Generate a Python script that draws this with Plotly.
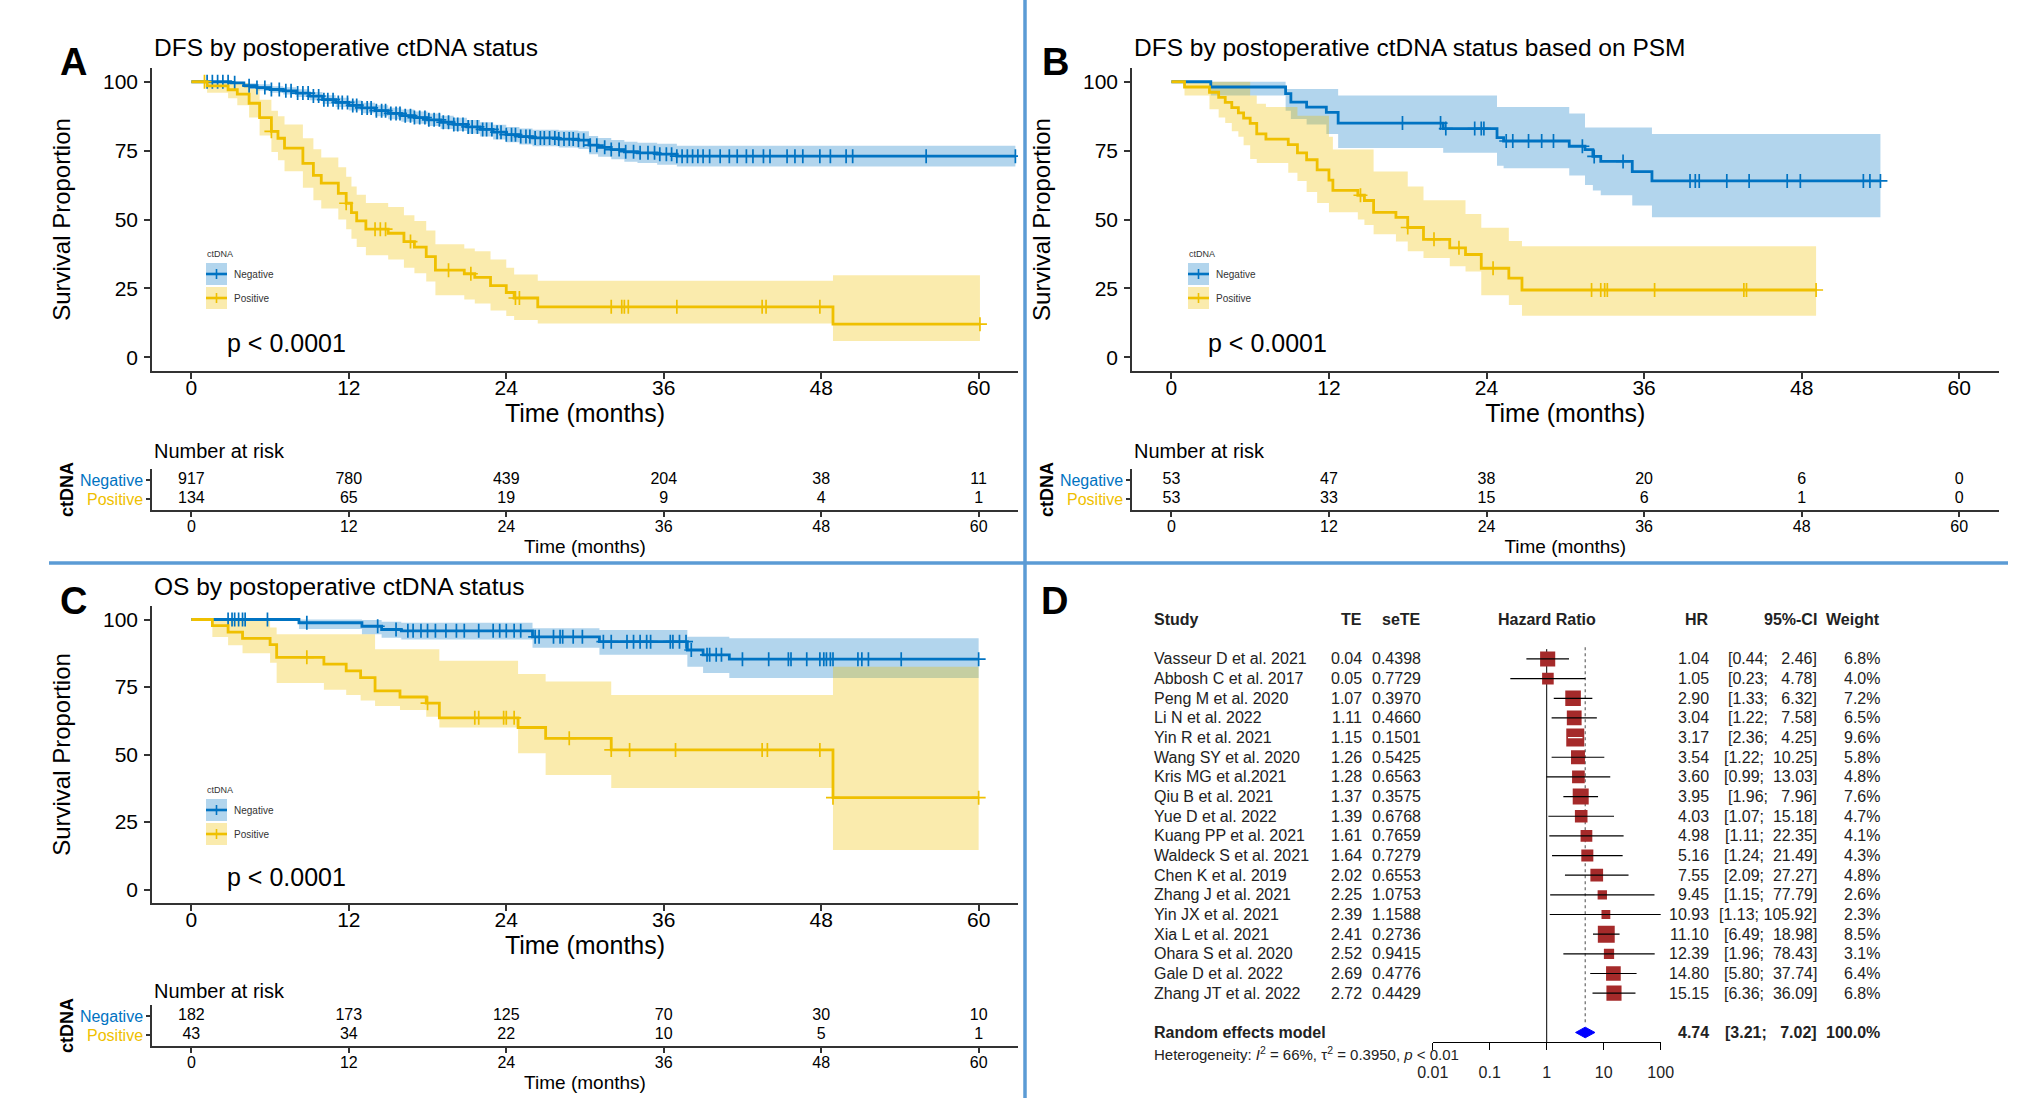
import math
import plotly.graph_objects as go

W, H = 2021, 1109
FONT = "Liberation Sans, Arial, Helvetica, sans-serif"
BLUE = "#0073C2"
YELLOW = "#EFC000"
BLUE_BAND = "rgba(0,115,194,0.30)"
YELLOW_BAND = "rgba(239,192,0,0.32)"
AXIS = "#333333"
SEP = "#5B9BD5"
SQUARE = "#A52A2A"
DIAMOND = "#0000FF"
NBSP = "\u00a0"

# ---------------- shared labels ----------------
month_ticks = [0, 12, 24, 36, 48, 60]
surv_ticks = [0, 25, 50, 75, 100]
groups = ["Negative", "Positive"]

# ---------------- Panel A: DFS ----------------
a_neg_t = [0, 3, 4, 5, 6, 7, 8, 9, 10, 11, 12, 13, 14, 15, 16, 17, 18, 19, 20, 21, 22, 23, 24, 25, 26,
           28, 29.5, 30.3, 31, 32, 33, 34, 35.5, 37, 62.8]
a_neg_s = [100, 99.6, 98.6, 97.9, 97.2, 96.7, 95.9, 94.8, 93.5, 92.5, 91.4, 90.5, 89.5, 88.5, 87.7, 87.0,
           86.2, 85.3, 84.5, 83.6, 82.7, 81.7, 80.8, 80.1, 79.6, 79.2, 78.8, 77.0, 76.2, 75.4, 74.6, 74.2,
           73.7, 73.0, 73.0]
a_neg_hi = [100, 100, 99.5, 99.1, 98.4, 98.0, 97.3, 96.3, 95.1, 94.2, 93.2, 92.4, 91.5, 90.6, 89.9, 89.2,
            88.5, 87.7, 86.9, 86.1, 85.3, 84.4, 83.6, 83.0, 82.6, 82.3, 82.0, 80.3, 79.6, 78.9, 78.2, 77.9,
            77.5, 76.8, 76.8]
a_neg_lo = [100, 99.2, 97.7, 96.8, 96.0, 95.4, 94.5, 93.3, 91.9, 90.8, 89.6, 88.6, 87.5, 86.4, 85.5, 84.8,
            83.9, 82.9, 82.1, 81.1, 80.1, 79.0, 78.0, 77.2, 76.6, 76.1, 75.6, 73.7, 72.8, 71.9, 71.0, 70.5,
            69.9, 69.2, 69.2]
a_neg_cens = [1.2, 1.6, 2.0, 2.4, 2.8, 3.3, 4.4, 5.0, 5.6, 6.1, 6.7, 7.2, 7.6, 8.1, 8.5, 8.9, 9.3, 9.7,
              10.1, 10.4, 10.8, 11.2, 11.5, 11.9, 12.3, 12.6, 13.0, 13.4, 13.7, 14.1, 14.5, 14.8, 15.2,
              15.6, 15.9, 16.3, 16.7, 17.0, 17.4, 17.8, 18.1, 18.5, 18.9, 19.2, 19.6, 20.0, 20.3, 20.7,
              21.1, 21.4, 21.8, 22.2, 22.5, 22.9, 23.3, 23.6, 24.0, 24.4, 24.7, 25.1, 25.5, 25.8, 26.2,
              26.6, 26.9, 27.3, 27.7, 28.0, 28.4, 28.8, 29.1, 29.5, 29.9, 30.4, 30.9, 31.5, 32.0, 32.6,
              33.1, 33.7, 34.2, 34.8, 35.3, 35.7, 36.2, 36.6, 37.0, 37.4, 37.8, 38.2, 38.6, 39.0, 39.5,
              40.3, 41.0, 41.6, 42.3, 42.8, 43.6, 44.1, 45.4, 46.0, 46.6, 47.9, 48.7, 49.9, 50.4, 56.0, 62.8]

a_pos_t = [0, 1.2, 2.8, 3.5, 4.4, 5.2, 6.1, 6.6, 7.1, 8.5, 9.3, 9.9, 11.2, 11.8, 12.2, 12.6, 13.3, 15.0,
           16.2, 17.0, 17.9, 18.6, 20.8, 21.6, 22.8, 24.0, 24.6, 26.4, 48.9, 60.1]
a_pos_s = [100, 98.5, 97.1, 95.5, 92.2, 87.0, 82.0, 79.5, 75.9, 70.4, 66.0, 63.2, 59.5, 55.9, 52.5, 49.5,
           46.5, 45.0, 42.0, 40.0, 36.5, 31.6, 30.3, 29.0, 26.0, 23.5, 21.5, 18.3, 12.0, 12.0]
a_pos_hi = [100, 100, 100, 99.5, 97.5, 93.5, 89.5, 87.5, 84.5, 79.5, 75.5, 72.5, 69.0, 65.5, 62.0, 59.0,
            56.0, 54.5, 51.5, 49.5, 46.0, 41.0, 39.5, 38.5, 35.5, 32.5, 30.0, 27.8, 29.8, 29.8]
a_pos_lo = [100, 96.0, 94.0, 91.5, 87.0, 80.5, 74.5, 71.5, 67.5, 61.5, 57.0, 54.0, 50.0, 46.5, 43.0, 40.0,
            37.0, 35.5, 32.5, 30.5, 27.5, 22.5, 21.0, 19.5, 17.0, 15.0, 13.5, 12.2, 5.9, 5.9]
a_pos_cens = [1.0, 6.1, 11.8, 14.0, 14.4, 14.8, 16.7, 19.6, 21.3, 24.7, 25.0, 32.0, 32.8, 33.0, 33.3,
              37.0, 43.5, 43.8, 47.9, 60.1]

a_risk_neg = [917, 780, 439, 204, 38, 11]
a_risk_pos = [134, 65, 19, 9, 4, 1]

# ---------------- Panel B: DFS (PSM) ----------------
b_neg_t = [0, 3.0, 8.7, 9.1, 10.3, 11.8, 12.7, 20.7, 24.8, 25.3, 30.3, 31.5, 32.1, 32.7, 35.1, 36.6, 54.0]
b_neg_s = [100, 98.1, 95.7, 92.6, 90.8, 88.9, 85.0, 83.0, 79.7, 78.5, 76.6, 75.4, 72.9, 71.1, 67.4, 64.0, 64.0]
b_neg_hi = [100, 100, 97.4, 97.4, 97.4, 97.4, 95.0, 95.0, 90.8, 90.8, 88.5, 83.4, 83.4, 83.4, 83.4, 81.0, 81.0]
b_neg_lo = [100, 95.0, 89.5, 86.5, 84.5, 81.0, 76.0, 74.2, 69.5, 68.6, 66.0, 62.5, 60.5, 58.8, 55.1, 50.8, 50.8]
b_neg_cens = [17.6, 20.5, 20.9, 23.1, 23.6, 23.8, 25.5, 26.0, 27.2, 28.2, 29.1, 31.3, 32.2, 34.4, 39.5,
              39.9, 40.2, 42.3, 44.0, 46.9, 47.9, 52.7, 53.2, 54.0]

b_pos_t = [0, 1.0, 2.9, 3.6, 4.1, 4.6, 5.1, 5.5, 6.0, 6.5, 7.2, 8.9, 9.6, 10.3, 11.1, 12.0, 12.3, 14.2,
           14.7, 15.4, 17.1, 18.0, 19.2, 21.2, 22.4, 23.6, 25.7, 26.7, 49.1]
b_pos_s = [100, 98.1, 96.2, 94.3, 92.5, 90.6, 88.7, 86.8, 84.9, 81.1, 79.2, 77.2, 74.2, 71.7, 68.0, 64.3,
           60.6, 58.8, 56.9, 52.6, 50.8, 47.1, 42.8, 39.7, 37.3, 32.3, 28.7, 24.4, 24.4]
b_pos_hi = [100, 100, 100, 100, 100, 100, 100, 100, 95.0, 92.0, 90.8, 90.8, 87.7, 87.7, 87.7, 80.0, 75.4,
            75.4, 75.4, 67.4, 67.4, 62.0, 57.0, 57.0, 52.0, 47.0, 42.2, 40.3, 40.3]
b_pos_lo = [100, 95.0, 90.0, 87.0, 85.0, 82.0, 80.0, 77.0, 72.0, 70.5, 70.5, 67.0, 64.0, 60.0, 56.0, 52.6,
            52.6, 50.0, 48.0, 44.6, 42.0, 38.5, 36.0, 33.0, 31.1, 22.5, 19.0, 15.1, 15.1]
b_pos_cens = [14.4, 18.0, 20.0, 21.9, 24.5, 32.0, 32.7, 33.0, 33.2, 36.8, 43.6, 43.8, 49.1]

b_risk_neg = [53, 47, 38, 20, 6, 0]
b_risk_pos = [53, 33, 15, 6, 1, 0]

# ---------------- Panel C: OS ----------------
c_neg_t = [0, 8.2, 13.0, 14.5, 16.0, 26.0, 31.1, 37.8, 39.0, 41.0, 60.0]
c_neg_s = [100, 98.8, 97.5, 96.3, 95.8, 93.6, 91.8, 88.7, 86.9, 85.3, 85.3]
c_neg_hi = [100, 100, 99.8, 99.2, 98.8, 96.8, 96.1, 93.6, 93.6, 93.1, 93.1]
c_neg_lo = [100, 96.5, 94.5, 93.2, 92.6, 89.5, 86.9, 82.5, 80.2, 78.3, 78.3]
c_neg_cens = [2.8, 3.1, 3.3, 3.6, 3.9, 4.1, 5.8, 8.8, 14.2, 15.6, 16.5, 16.9, 17.5, 18.0, 18.6, 19.4,
              20.2, 20.8, 21.9, 23.0, 23.5, 24.0, 24.6, 25.1, 26.2, 26.5, 27.6, 28.1, 28.3, 29.1, 29.8,
              31.4, 32.0, 33.2, 33.7, 34.2, 34.7, 35.0, 36.5, 36.7, 37.2, 37.7, 38.1, 39.3, 39.5, 40.0,
              40.4, 42.0, 44.0, 45.5, 45.7, 46.9, 47.9, 48.2, 48.4, 48.7, 48.9, 50.8, 51.1, 51.6, 54.1, 60.0]

c_pos_t = [0, 1.6, 2.8, 3.9, 6.0, 6.5, 10.1, 11.8, 12.9, 14.0, 15.9, 17.9, 18.9, 24.9, 27.0, 32.0, 48.9, 60.0]
c_pos_s = [100, 97.7, 95.3, 93.0, 90.7, 86.0, 83.5, 81.0, 78.5, 73.6, 71.3, 69.0, 63.6, 60.0, 56.0, 51.7,
           34.0, 34.0]
c_pos_hi = [100, 100, 100, 100, 97.0, 94.5, 94.5, 94.5, 94.5, 89.0, 89.0, 89.0, 84.7, 79.8, 77.0, 72.0,
            82.5, 82.5]
c_pos_lo = [100, 93.5, 90.5, 87.5, 84.0, 76.5, 74.0, 72.0, 70.0, 68.0, 66.5, 64.0, 60.0, 50.5, 42.4, 37.6,
            14.6, 14.6]
c_pos_cens = [8.8, 18.0, 21.6, 21.9, 23.8, 24.0, 24.6, 28.8, 32.0, 33.4, 36.9, 43.5, 43.9, 47.9, 48.9, 60.0]

c_risk_neg = [182, 173, 125, 70, 30, 10]
c_risk_pos = [43, 34, 22, 10, 5, 1]

# ---------------- Panel D: forest plot ----------------
studies = ["Vasseur D et al. 2021", "Abbosh C et al. 2017", "Peng M et al. 2020", "Li N et al. 2022",
           "Yin R et al. 2021", "Wang SY et al. 2020", "Kris MG et al.2021", "Qiu B et al. 2021",
           "Yue D et al. 2022", "Kuang PP et al. 2021", "Waldeck S et al. 2021", "Chen K et al. 2019",
           "Zhang J et al. 2021", "Yin JX et al. 2021", "Xia L et al. 2021", "Ohara S et al. 2020",
           "Gale D et al. 2022", "Zhang JT et al. 2022"]
te = [0.04, 0.05, 1.07, 1.11, 1.15, 1.26, 1.28, 1.37, 1.39, 1.61, 1.64, 2.02, 2.25, 2.39, 2.41, 2.52, 2.69, 2.72]
se_te = [0.4398, 0.7729, 0.3970, 0.4660, 0.1501, 0.5425, 0.6563, 0.3575, 0.6768, 0.7659, 0.7279, 0.6553,
         1.0753, 1.1588, 0.2736, 0.9415, 0.4776, 0.4429]
hr = [1.04, 1.05, 2.90, 3.04, 3.17, 3.54, 3.60, 3.95, 4.03, 4.98, 5.16, 7.55, 9.45, 10.93, 11.10, 12.39,
      14.80, 15.15]
ci_low = [0.44, 0.23, 1.33, 1.22, 2.36, 1.22, 0.99, 1.96, 1.07, 1.11, 1.24, 2.09, 1.15, 1.13, 6.49, 1.96,
          5.80, 6.36]
ci_high = [2.46, 4.78, 6.32, 7.58, 4.25, 10.25, 13.03, 7.96, 15.18, 22.35, 21.49, 27.27, 77.79, 105.92,
           18.98, 78.43, 37.74, 36.09]
weight = [6.8, 4.0, 7.2, 6.5, 9.6, 5.8, 4.8, 7.6, 4.7, 4.1, 4.3, 4.8, 2.6, 2.3, 8.5, 3.1, 6.4, 6.8]
pooled_label = "Random effects model"
pooled_hr, pooled_low, pooled_high, pooled_weight = 4.74, 3.21, 7.02, 100.0
heterogeneity = "Heterogeneity: <i>I</i><sup>2</sup> = 66%, τ<sup>2</sup> = 0.3950, <i>p</i> &lt; 0.01"
hr_ticks = [0.01, 0.1, 1, 10, 100]
hr_tick_labels = ["0.01", "0.1", "1", "10", "100"]

for arrs in [(a_neg_t, a_neg_s, a_neg_hi, a_neg_lo), (a_pos_t, a_pos_s, a_pos_hi, a_pos_lo),
             (b_neg_t, b_neg_s, b_neg_hi, b_neg_lo), (b_pos_t, b_pos_s, b_pos_hi, b_pos_lo),
             (c_neg_t, c_neg_s, c_neg_hi, c_neg_lo), (c_pos_t, c_pos_s, c_pos_hi, c_pos_lo)]:
    assert len(set(len(a) for a in arrs)) == 1, [len(a) for a in arrs]


# ---------------- helpers ----------------
def xname(i): return "x" if i == 1 else f"x{i}"
def yname(i): return "y" if i == 1 else f"y{i}"
def xkey(i): return "xaxis" if i == 1 else f"xaxis{i}"
def ykey(i): return "yaxis" if i == 1 else f"yaxis{i}"
def xdom(a, b): return [a / W, b / W]
def ydom(top, bottom): return [1 - bottom / H, 1 - top / H]
def px(x): return x / W
def py(y): return 1 - y / H


def step_value(times, surv, t):
    v = surv[0]
    for ti, si in zip(times, surv):
        if ti <= t + 1e-9:
            v = si
        else:
            break
    return v


def ci_text(lo, hi):
    # R-style: upper bound right-justified to width 6 with (non-collapsing) spaces
    return ("[%.2f; %6.2f]" % (lo, hi)).replace(" ", NBSP)


fig = go.Figure()
layout = dict(template="none", width=W, height=H, margin=dict(l=0, r=0, t=0, b=0, pad=0),
              paper_bgcolor="white", plot_bgcolor="white", showlegend=False,
              font=dict(family=FONT, color="black"))
annotations = []
shapes = []


def note(text, x, y, size, xanchor="left", yanchor="middle", xref="paper", yref="paper",
         color="black", angle=0):
    annotations.append(dict(text=text, x=x, y=y, xref=xref, yref=yref, xanchor=xanchor,
                            yanchor=yanchor, showarrow=False, textangle=angle,
                            font=dict(size=size, color=color, family=FONT)))


row_of = {g: len(groups) - k for k, g in enumerate(groups)}
group_color = {"Negative": BLUE, "Positive": YELLOW}
group_band = {"Negative": BLUE_BAND, "Positive": YELLOW_BAND}

panels = [
    dict(main=1, rsk=2, xpx=(152, 1018), ypx=(68, 371), rpx=(468.6, 510.4),
         curves={"Negative": (a_neg_t, a_neg_s, a_neg_lo, a_neg_hi, a_neg_cens),
                 "Positive": (a_pos_t, a_pos_s, a_pos_lo, a_pos_hi, a_pos_cens)},
         risk={"Negative": a_risk_neg, "Positive": a_risk_pos},
         title="DFS by postoperative ctDNA status", title_px=(152, 48),
         letter="A", letter_px=(73, 62), legend_px=(206, 263), p_y=5, nrisk_y=451),
    dict(main=3, rsk=4, xpx=(1132, 1998.6), ypx=(68, 371), rpx=(468.6, 510.4),
         curves={"Negative": (b_neg_t, b_neg_s, b_neg_lo, b_neg_hi, b_neg_cens),
                 "Positive": (b_pos_t, b_pos_s, b_pos_lo, b_pos_hi, b_pos_cens)},
         risk={"Negative": b_risk_neg, "Positive": b_risk_pos},
         title="DFS by postoperative ctDNA status based on PSM", title_px=(1132, 48),
         letter="B", letter_px=(1055, 62), legend_px=(1188, 263), p_y=5, nrisk_y=451),
    dict(main=5, rsk=6, xpx=(152, 1018), ypx=(606, 903), rpx=(1004.6, 1046.4),
         curves={"Negative": (c_neg_t, c_neg_s, c_neg_lo, c_neg_hi, c_neg_cens),
                 "Positive": (c_pos_t, c_pos_s, c_pos_lo, c_pos_hi, c_pos_cens)},
         risk={"Negative": c_risk_neg, "Positive": c_risk_pos},
         title="OS by postoperative ctDNA status", title_px=(152, 586),
         letter="C", letter_px=(73, 601), legend_px=(206, 799), p_y=4.5, nrisk_y=991),
]

for p in panels:
    i, r = p["main"], p["rsk"]
    xa, xb = p["xpx"]
    # confidence bands
    for g in groups:
        t, s, lo, hi, cens = p["curves"][g]
        fig.add_trace(go.Scatter(x=t, y=lo, xaxis=xname(i), yaxis=yname(i), mode="lines",
                                 line=dict(width=0, shape="hv", color=group_band[g]), hoverinfo="skip"))
        fig.add_trace(go.Scatter(x=t, y=hi, xaxis=xname(i), yaxis=yname(i), mode="lines",
                                 line=dict(width=0, shape="hv", color=group_band[g]), fill="tonexty",
                                 fillcolor=group_band[g], hoverinfo="skip"))
    # survival steps and censor marks
    for g in groups:
        t, s, lo, hi, cens = p["curves"][g]
        fig.add_trace(go.Scatter(x=t, y=s, xaxis=xname(i), yaxis=yname(i), mode="lines", name=g,
                                 line=dict(width=2.8, shape="hv", color=group_color[g])))
        fig.add_trace(go.Scatter(x=cens, y=[step_value(t, s, c) for c in cens], xaxis=xname(i),
                                 yaxis=yname(i), mode="markers", name=g + " censored",
                                 marker=dict(symbol="cross-thin", size=10, color=group_color[g], opacity=1,
                                             line=dict(width=1.7, color=group_color[g]))))
    # risk table numbers
    for g in groups:
        vals = p["risk"][g]
        fig.add_trace(go.Scatter(x=month_ticks, y=[row_of[g]] * len(vals), xaxis=xname(r), yaxis=yname(r),
                                 mode="text", text=[str(v) for v in vals], cliponaxis=False,
                                 textfont=dict(size=16, color="black", family=FONT)))

    axis_common = dict(showline=True, linecolor=AXIS, linewidth=1.5, ticks="outside", tickcolor=AXIS,
                       tickwidth=1.5, showgrid=False, zeroline=False, automargin=False)
    layout[xkey(i)] = dict(domain=xdom(xa, xb), range=[-3, 63], anchor=yname(i), tickmode="array",
                           tickvals=month_ticks, ticktext=[str(m) for m in month_ticks], ticklen=6,
                           tickfont=dict(size=21, color="black"), ticklabelstandoff=-9,
                           title=dict(text="Time (months)", font=dict(size=25), standoff=3), **axis_common)
    layout[ykey(i)] = dict(domain=ydom(*p["ypx"]), range=[-5, 105], anchor=xname(i), tickmode="array",
                           tickvals=surv_ticks, ticktext=[str(v) for v in surv_ticks], ticklen=6,
                           tickfont=dict(size=21, color="black"), ticklabelstandoff=2,
                           title=dict(text="Survival Proportion", font=dict(size=24), standoff=26),
                           **axis_common)
    layout[xkey(r)] = dict(domain=xdom(xa, xb), range=[-3, 63], anchor=yname(r), tickmode="array",
                           tickvals=month_ticks, ticktext=[str(m) for m in month_ticks], ticklen=5,
                           tickfont=dict(size=16, color="black"), ticklabelstandoff=-4,
                           title=dict(text="Time (months)", font=dict(size=19), standoff=5), **axis_common)
    layout[ykey(r)] = dict(domain=ydom(*p["rpx"]), range=[0.4, len(groups) + 0.6], anchor=xname(r),
                           tickmode="array", tickvals=[row_of[g] for g in groups],
                           ticktext=[f"<span style='color:{group_color[g]}'>{g}</span>" for g in groups],
                           ticklen=4, tickfont=dict(size=16),
                           title=dict(text="<b>ctDNA</b>", font=dict(size=18), standoff=2), **axis_common)

    # titles, p value, letter, number at risk
    note(p["title"], px(p["title_px"][0]), py(p["title_px"][1]), 24.5)
    note("<b>" + p["letter"] + "</b>", px(p["letter_px"][0]), py(p["letter_px"][1]), 38, xanchor="center")
    note("p &lt; 0.0001", 2.6, p["p_y"], 25, xref=xname(i), yref=yname(i))
    note("Number at risk", px(xa), py(p["nrisk_y"]), 20)

    # legend (ggplot-style inside the panel)
    L, T = p["legend_px"]
    note("ctDNA", px(L - 1), py(T - 9), 9, color="#333333")
    for k, g in enumerate(groups):
        top = T + 24 * k
        mid = top + 11
        shapes.append(dict(type="rect", xref="paper", yref="paper", x0=px(L), x1=px(L + 21),
                           y0=py(top + 22), y1=py(top), fillcolor=group_band[g], line=dict(width=0)))
        shapes.append(dict(type="line", xref="paper", yref="paper", x0=px(L), x1=px(L + 21),
                           y0=py(mid), y1=py(mid), line=dict(color=group_color[g], width=2.6)))
        shapes.append(dict(type="line", xref="paper", yref="paper", x0=px(L + 10.5), x1=px(L + 10.5),
                           y0=py(mid - 5), y1=py(mid + 5), line=dict(color=group_color[g], width=1.6)))
        note(g, px(L + 26), py(mid), 10, color="#333333")

# ---------------- forest plot (panel D) ----------------
FX, FY = 7, 7
forest_x = (1432.7, 1660.7)
forest_y = (600, 1042.3)
rows = [k + 1 for k in range(len(studies))]
pooled_row = len(studies) + 2
axis_bottom_row = pooled_row + 0.5
header_row = -1
row_px = (forest_y[1] - forest_y[0]) / (axis_bottom_row + 2)
decade_px = (forest_x[1] - forest_x[0]) / (math.log10(hr_ticks[-1]) - math.log10(hr_ticks[0]))
sizes = [5.8 * math.sqrt(w) for w in weight]

# reference lines
fig.add_trace(go.Scatter(x=[1, 1], y=[rows[0] - 0.5, axis_bottom_row], xaxis=xname(FX), yaxis=yname(FY),
                         mode="lines", line=dict(color="black", width=1)))
fig.add_trace(go.Scatter(x=[pooled_hr, pooled_hr], y=[rows[0] - 0.6, pooled_row - 0.5], xaxis=xname(FX),
                         yaxis=yname(FY), mode="lines", line=dict(color="#666666", width=1.2, dash="dot")))
# squares
fig.add_trace(go.Scatter(x=hr, y=rows, xaxis=xname(FX), yaxis=yname(FY), mode="markers",
                         marker=dict(symbol="square", size=sizes, color=SQUARE, opacity=1, line=dict(width=0))))
# CI lines (white when fully inside its square)
blk_x, blk_y, wht_x, wht_y = [], [], [], []
for h, lo, hi, r, s in zip(hr, ci_low, ci_high, rows, sizes):
    half = (s / 2) / decade_px
    inside = math.log10(lo) >= math.log10(h) - half and math.log10(hi) <= math.log10(h) + half
    if inside:
        wht_x += [lo, hi, None]; wht_y += [r, r, None]
    else:
        blk_x += [lo, hi, None]; blk_y += [r, r, None]
fig.add_trace(go.Scatter(x=blk_x, y=blk_y, xaxis=xname(FX), yaxis=yname(FY), mode="lines",
                         line=dict(color="black", width=1.2)))
if wht_x:
    fig.add_trace(go.Scatter(x=wht_x, y=wht_y, xaxis=xname(FX), yaxis=yname(FY), mode="lines",
                             line=dict(color="white", width=1.2)))
# pooled diamond
fig.add_trace(go.Scatter(x=[pooled_low, pooled_hr, pooled_high, pooled_hr, pooled_low],
                         y=[pooled_row, pooled_row - 0.27, pooled_row, pooled_row + 0.27, pooled_row],
                         xaxis=xname(FX), yaxis=yname(FY), mode="lines", fill="toself", fillcolor=DIAMOND,
                         line=dict(color=DIAMOND, width=1)))

layout[xkey(FX)] = dict(domain=xdom(*forest_x), type="log",
                        range=[math.log10(hr_ticks[0]), math.log10(hr_ticks[-1])],
                        anchor=yname(FY), tickmode="array", tickvals=hr_ticks, ticktext=hr_tick_labels,
                        showline=True, linecolor="black", linewidth=1, ticks="outside", ticklen=7,
                        tickcolor="black", tickwidth=1, tickfont=dict(size=16, color="#222222"),
                        ticklabelstandoff=8, showgrid=False, zeroline=False, automargin=False)
layout[ykey(FY)] = dict(domain=ydom(*forest_y), range=[axis_bottom_row, -2], anchor=xname(FX),
                        visible=False, automargin=False)

FS = 16
col_study, col_te, col_se, col_hr, col_ci, col_w = 1152, 1364, 1423, 1711, 1819, 1882
TXT = "#222222"


def fnote(text, xpix, row, anchor, bold=False, size=FS):
    note(("<b>%s</b>" % text) if bold else text, px(xpix), row, size, xanchor=anchor, yref=yname(FY), color=TXT)


fnote("Study", col_study, header_row, "left", True)
fnote("TE", col_te, header_row, "right", True)
fnote("seTE", col_se, header_row, "right", True)
note("<b>Hazard Ratio</b>", 0, header_row, FS, xanchor="center", xref=xname(FX), yref=yname(FY), color=TXT)
fnote("HR", col_hr, header_row, "right", True)
fnote("95%-CI", col_ci, header_row, "right", True)
fnote("Weight", col_w, header_row, "right", True)

for k, r in enumerate(rows):
    fnote(studies[k], col_study, r, "left")
    fnote("%.2f" % te[k], col_te, r, "right")
    fnote("%.4f" % se_te[k], col_se, r, "right")
    fnote("%.2f" % hr[k], col_hr, r, "right")
    fnote(ci_text(ci_low[k], ci_high[k]), col_ci, r, "right")
    fnote("%.1f%%" % weight[k], col_w, r, "right")

fnote(pooled_label, col_study, pooled_row, "left", True)
fnote("%.2f" % pooled_hr, col_hr, pooled_row, "right", True)
fnote(ci_text(pooled_low, pooled_high), col_ci, pooled_row, "right", True)
fnote("%.1f%%" % pooled_weight, col_w, pooled_row, "right", True)
# heterogeneity line sits just below the axis line (outside the y range, so use paper coords)
het_px = forest_y[1] + 0.58 * row_px
note(heterogeneity, px(col_study), py(het_px), 15, color=TXT)
note("<b>D</b>", px(1054), py(601), 38, xanchor="center")

# ---------------- separator lines ----------------
shapes.append(dict(type="line", xref="paper", yref="paper", x0=px(49), x1=px(2008), y0=py(563), y1=py(563),
                   line=dict(color=SEP, width=3.5)))
shapes.append(dict(type="line", xref="paper", yref="paper", x0=px(1025), x1=px(1025), y0=py(0), y1=py(1098),
                   line=dict(color=SEP, width=3.5)))

layout["annotations"] = annotations
layout["shapes"] = shapes
fig.update_layout(**layout)
fig.write_html("out.html", config={"displayModeBar": False},
               post_script="document.body.style.margin='0px';document.body.style.overflow='hidden';")
